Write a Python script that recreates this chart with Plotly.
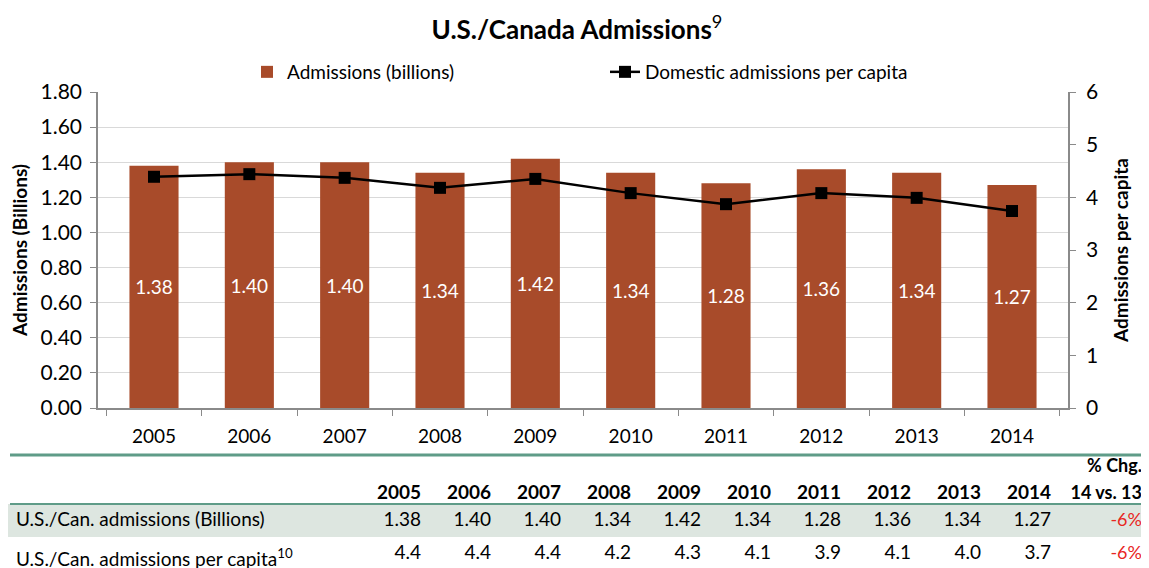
import plotly.graph_objects as go

W, H = 1149, 568
OFF = 8  # page body margin offset of the plot div

years = ["2005", "2006", "2007", "2008", "2009", "2010", "2011", "2012", "2013", "2014"]
admissions_billions = [1.38, 1.40, 1.40, 1.34, 1.42, 1.34, 1.28, 1.36, 1.34, 1.27]
per_capita = [4.39, 4.44, 4.37, 4.18, 4.35, 4.08, 3.87, 4.08, 3.99, 3.74]
per_capita_table = ["4.4", "4.4", "4.4", "4.2", "4.3", "4.1", "3.9", "4.1", "4.0", "3.7"]
row_labels = ["U.S./Can. admissions (Billions)", "U.S./Can. admissions per capita<sup>10</sup>"]
pct_change = ["-6%", "-6%"]
pct_header = ["% Chg.", "14 vs. 13"]

FONT = "Lato"
BAR = "#A84B2A"
TEAL = "#5F9C88"
ROWBG = "#DDE6E0"
AXIS = "#8A8A8A"
RED = "#E8261F"
NB = "\u00a0"

def px_x(x):
    return (x - OFF) / W

def px_y(y):
    return 1 - (y - OFF) / H

def nb(s):
    return s.replace(" ", NB)

fig = go.Figure()

fig.add_trace(go.Bar(
    x=years, y=admissions_billions, name="Admissions (billions)",
    marker=dict(color=BAR, line=dict(width=0)),
    texttemplate="%{y:.2f}", textposition="inside", insidetextanchor="middle",
    textfont=dict(color="white", size=19, family=FONT),
    yaxis="y", xaxis="x",
))

fig.add_trace(go.Scatter(
    x=years, y=per_capita, name="Domestic admissions per capita",
    mode="lines+markers",
    line=dict(color="black", width=2.5),
    marker=dict(symbol="square", size=12, color="black"),
    yaxis="y2", xaxis="x",
))

# table: two header rows (% Chg. / years) and two data rows
ncols = len(years) + 2
header_vals = [["", ""]] + [["", y] for y in years] + [[nb(pct_header[0]), nb(pct_header[1])]]
cell_vals = ([[nb(row_labels[0]), nb(row_labels[1])]]
             + [[f"{a:.2f}", p] for a, p in zip(admissions_billions, per_capita_table)]
             + [pct_change])
fills = [[ROWBG, "white"]] * ncols
fcolors = [["black", "black"]] * (ncols - 1) + [[RED, RED]]
fsizes = [19] * (ncols - 1) + [18]
aligns = ["left"] + ["right"] * (ncols - 1)
colwidths = [351] + [70] * len(years) + [91]

fig.add_trace(go.Table(
    domain=dict(x=[0, px_x(1150)], y=[0, px_y(450)]),
    columnwidth=colwidths,
    header=dict(values=header_vals, fill=dict(color="white"), line=dict(width=0, color="white"),
                align=aligns, font=dict(family=FONT, size=fsizes, color="black", weight=700), height=27),
    cells=dict(values=cell_vals, fill=dict(color=fills), line=dict(width=0, color="white"),
               align=aligns, font=dict(family=FONT, size=fsizes, color=fcolors), height=33),
))

fig.update_layout(
    width=W, height=H,
    margin=dict(l=0, r=0, t=0, b=0, autoexpand=False),
    paper_bgcolor="white", plot_bgcolor="white",
    font=dict(family=FONT, size=19, color="black"),
    title=dict(text="<b>U.S./Canada Admissions</b><sup>9</sup>", x=px_x(577), xanchor="center",
               y=px_y(30), yanchor="middle", font=dict(size=26, family=FONT)),
    bargap=0.485,
    showlegend=True,
    legend=dict(orientation="h", x=px_x(247), xanchor="left", y=px_y(72), yanchor="middle",
                font=dict(size=19, family=FONT), entrywidth=313, bgcolor="rgba(0,0,0,0)",
                traceorder="normal"),
    xaxis=dict(domain=[px_x(98), px_x(1068)], type="category", showline=True, linecolor=AXIS,
               linewidth=1.5, ticks="outside", tickson="boundaries", ticklen=6, tickcolor=AXIS,
               tickfont=dict(size=19), showgrid=False, anchor="y", automargin=False,
               ticklabelstandoff=10),
    yaxis=dict(domain=[px_y(408), px_y(92)], range=[0, 1.8], dtick=0.2, tickformat=".2f",
               showgrid=True, gridcolor="#D9D9D9", gridwidth=1, zeroline=False,
               showline=True, linecolor=AXIS, linewidth=1.5, ticks="outside", ticklen=6,
               tickcolor=AXIS, tickfont=dict(size=21), automargin=False, ticklabelstandoff=4,
               title=dict(text="<b>Admissions (Billions)</b>", font=dict(size=19), standoff=13)),
    yaxis2=dict(overlaying="y", side="right", range=[0, 6], dtick=1, showgrid=False,
                zeroline=False, showline=True, linecolor=AXIS, linewidth=1.5, ticks="outside",
                ticklen=6, tickcolor=AXIS, tickfont=dict(size=21), anchor="x", automargin=False,
                ticklabelstandoff=6,
                title=dict(text="<b>Admissions per capita</b>", font=dict(size=19), standoff=18)),
)

fig.add_shape(type="line", xref="paper", yref="paper", x0=px_x(10), x1=px_x(1146),
              y0=px_y(455), y1=px_y(455), line=dict(color=TEAL, width=3))
fig.add_shape(type="line", xref="paper", yref="paper", x0=px_x(10), x1=px_x(1146),
              y0=px_y(504), y1=px_y(504), line=dict(color=TEAL, width=2))

fig.write_html("out.html")
